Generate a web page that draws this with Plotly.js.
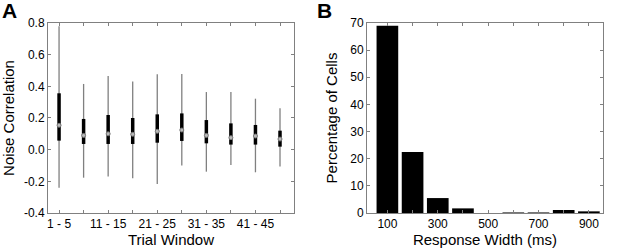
<!DOCTYPE html>
<html><head><meta charset="utf-8">
<script src="https://cdn.plot.ly/plotly-3.0.1.min.js"></script>
<style>html,body{margin:0;padding:0;background:#fff}#chart{width:617px;height:252px}</style>
</head><body><div id="chart"></div>
<script>
// Panel A: noise correlation by trial window
const windows = [1,2,3,4,5,6,7,8,9,10];
const windowLabels = ["1 - 5","","11 - 15","","21 - 25","","31 - 35","","41 - 45",""];
const whiskerLow  = [-0.24,-0.177,-0.17,-0.18,-0.217,-0.10,-0.139,-0.097,-0.143,-0.107];
const whiskerHigh = [0.78,0.415,0.465,0.43,0.476,0.478,0.364,0.364,0.322,0.261];
const q1 = [0.057,0.036,0.036,0.036,0.044,0.055,0.040,0.032,0.032,0.019];
const q3 = [0.356,0.194,0.219,0.200,0.223,0.229,0.187,0.166,0.156,0.120];
const medians = [0.154,0.090,0.100,0.097,0.116,0.124,0.090,0.076,0.086,0.067];

// Panel B: response width histogram
const widths = [100,200,300,400,500,600,700,800,900];
const pctCells = [69,22.5,5.5,1.7,0,0.2,0.2,1.1,0.6];

function segs(xs, lo, hi){
  const X=[],Y=[];
  xs.forEach((x,i)=>{X.push(x,x,null);Y.push(lo[i],hi[i],null);});
  return {x:X,y:Y};
}
const w = segs(windows, whiskerLow, whiskerHigh);
const b = segs(windows, q1, q3);

const font = {family:"Liberation Sans, Arial, sans-serif", color:"#000"};
const axCommon = {showline:true, linecolor:"#808080", linewidth:1, mirror:"ticks",
  ticks:"inside", ticklen:3, tickcolor:"#808080", showgrid:false, zeroline:false,
  tickfont:{size:12, family:font.family, color:"#000"}};

const traces = [
  {type:"scatter", mode:"lines", x:w.x, y:w.y, line:{color:"#808080", width:1.3},
   xaxis:"x", yaxis:"y", hoverinfo:"skip", showlegend:false},
  {type:"scatter", mode:"lines", x:b.x, y:b.y, line:{color:"#000", width:3.5},
   xaxis:"x", yaxis:"y", hoverinfo:"skip", showlegend:false},
  {type:"scatter", mode:"markers", x:windows, y:medians,
   marker:{symbol:"circle", size:4, color:"#b8b8b8", line:{color:"#777", width:1}},
   xaxis:"x", yaxis:"y", showlegend:false},
  {type:"bar", x:widths, y:pctCells, width:86, marker:{color:"#000", line:{width:0}},
   xaxis:"x2", yaxis:"y2", showlegend:false}
];

const layout = {
  width:617, height:252, margin:{l:0,r:0,t:0,b:0},
  paper_bgcolor:"#fff", plot_bgcolor:"#fff", font:font, showlegend:false,
  xaxis: Object.assign({}, axCommon, {domain:[0.0778,0.4765], range:[0.55,10.57],
    tickmode:"array", tickvals:windows, ticktext:windowLabels,
    title:{text:"Trial Window", font:{size:15}, standoff:4}}),
  yaxis: Object.assign({}, axCommon, {domain:[0.1548,0.9087], range:[-0.4,0.8],
    tickmode:"array", tickvals:[-0.4,-0.2,0,0.2,0.4,0.6,0.8],
    ticktext:["-0.4","-0.2","0.0","0.2","0.4","0.6","0.8"],
    title:{text:"Noise Correlation", font:{size:15}, standoff:6}}),
  xaxis2: Object.assign({}, axCommon, {domain:[0.5948,0.9773], range:[19,956], anchor:"y2",
    tickmode:"array", tickvals:widths, ticktext:["100","","300","","500","","700","","900"],
    title:{text:"Response Width (ms)", font:{size:15}, standoff:4}}),
  yaxis2: Object.assign({}, axCommon, {domain:[0.1548,0.9087], range:[0,70], anchor:"x2",
    tickmode:"array", tickvals:[0,10,20,30,40,50,60,70],
    title:{text:"Percentage of Cells", font:{size:15}, standoff:8}}),
  annotations:[
    {text:"<b>A</b>", x:0, y:1.01, xref:"paper", yref:"paper", xanchor:"left", yanchor:"top",
     showarrow:false, font:{size:21, family:font.family}},
    {text:"<b>B</b>", x:315/617, y:1.01, xref:"paper", yref:"paper", xanchor:"left", yanchor:"top",
     showarrow:false, font:{size:21, family:font.family}}
  ]
};
Plotly.newPlot("chart", traces, layout, {staticPlot:true, displayModeBar:false});
</script></body></html>
